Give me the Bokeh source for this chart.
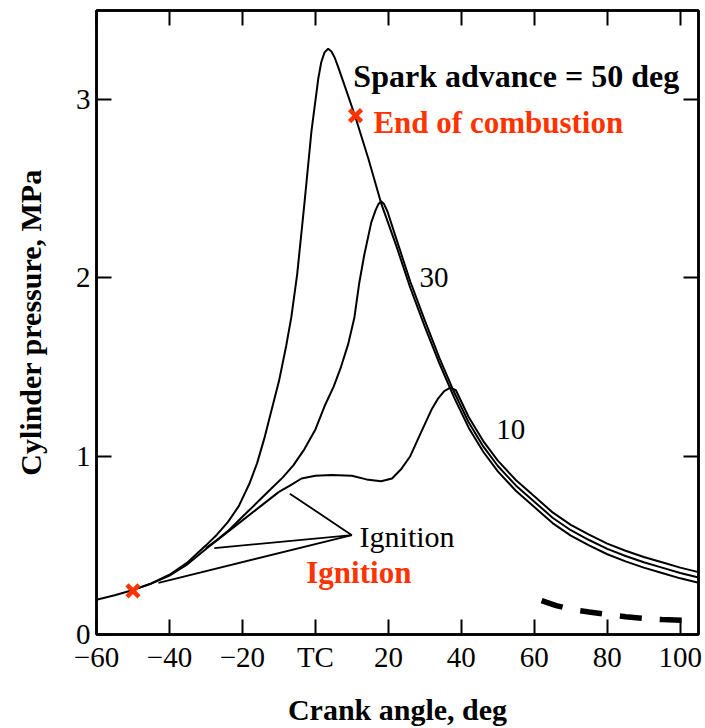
from bokeh.plotting import figure
from bokeh.models import Range1d, FixedTicker, LinearAxis, Label
from bokeh.embed import file_html
from bokeh.resources import INLINE

# ---------------- data ----------------
# motoring / compression curve up to the 10-deg ignition point
motor_crank = [-60, -55, -50, -45, -40, -35, -30, -25, -20, -15, -10]
motor_p = [0.195, 0.22, 0.25, 0.285, 0.33, 0.395, 0.48, 0.56, 0.64, 0.72, 0.80]

# spark advance = 50 deg
sa50_crank = [-50, -45, -40, -35, -30, -27, -24, -21, -18, -16, -14, -12, -10, -8, -6.6, -5,
              -3, -1.1, 0.8, 1.6, 2.5, 3.5, 4.4, 5.3, 6.3, 9, 11, 14.5, 18, 22, 26, 30, 34, 38,
              42, 46, 50, 55, 60, 65, 70, 75, 80, 85, 90, 95, 100, 105]
sa50_p = [0.25, 0.287, 0.335, 0.405, 0.50, 0.56, 0.63, 0.72, 0.85, 0.96, 1.10, 1.26, 1.42, 1.62,
          1.78, 2.02, 2.42, 2.82, 3.12, 3.21, 3.265, 3.285, 3.27, 3.235, 3.18, 3.02, 2.90, 2.67,
          2.42, 2.19, 1.945, 1.725, 1.52, 1.33, 1.16, 1.025, 0.915, 0.805, 0.715, 0.625, 0.555,
          0.50, 0.45, 0.41, 0.375, 0.345, 0.315, 0.29]

# spark advance = 30 deg
sa30_crank = [-30, -27, -24, -20, -16, -12, -9, -6, -3, 0, 2.5, 5, 7, 9, 10.7, 12, 13.4, 15.3,
              16.5, 17.3, 18, 18.8, 19.8, 22, 26, 30, 34, 38, 42, 46, 50, 55, 60, 65, 70, 75,
              80, 85, 90, 95, 100, 105]
sa30_p = [0.485, 0.53, 0.58, 0.66, 0.74, 0.82, 0.88, 0.95, 1.04, 1.15, 1.28, 1.39, 1.50, 1.63,
          1.78, 1.97, 2.13, 2.31, 2.38, 2.415, 2.43, 2.415, 2.37, 2.23, 1.98, 1.76, 1.55, 1.36,
          1.19, 1.055, 0.945, 0.835, 0.745, 0.655, 0.585, 0.53, 0.48, 0.44, 0.405, 0.375,
          0.345, 0.32]

# spark advance = 10 deg
sa10_crank = [-10, -7, -3.8, 0, 4.4, 10, 14, 18, 21, 23.6, 26, 28.2, 30, 31.8, 33.5, 35.3, 37,
              38.5, 42, 46, 50, 55, 60, 65, 70, 75, 80, 85, 90, 95, 100, 105]
sa10_p = [0.80, 0.835, 0.875, 0.89, 0.895, 0.89, 0.87, 0.86, 0.875, 0.93, 1.00, 1.10, 1.18,
          1.26, 1.32, 1.365, 1.385, 1.37, 1.22, 1.085, 0.975, 0.865, 0.775, 0.685, 0.615,
          0.56, 0.51, 0.47, 0.435, 0.405, 0.375, 0.35]

# dashed curve at bottom right
dash_crank = [62, 66, 70, 75, 80, 85, 90, 95, 102]
dash_p = [0.19, 0.162, 0.142, 0.126, 0.112, 0.10, 0.09, 0.084, 0.078]

# ignition leader lines (start on each curve, end at the "Ignition" label)
ign_start_crank = [-43, -27.7, -7]
ign_start_p = [0.29, 0.485, 0.79]
ign_end_crank = 10
ign_end_p = 0.557

# red markers: ignition (50 deg) and end of combustion
mark_crank = [-50, 11]
mark_p = [0.245, 2.91]

x_ticks = [-60, -40, -20, 0, 20, 40, 60, 80, 100]
x_tick_labels = ["\u221260", "\u221240", "\u221220", "TC", "20", "40", "60", "80", "100"]
y_ticks = [0, 1, 2, 3]

RED = "#ff3300"
FONT = "Liberation Serif"

# ---------------- figure ----------------
p = figure(width=705, height=728, x_range=Range1d(-60, 105), y_range=Range1d(0, 3.5),
           output_backend="svg", toolbar_location=None,
           min_border_left=96, min_border_right=7, min_border_top=10, min_border_bottom=91)
p.background_fill_color = "white"
p.border_fill_color = "white"
p.outline_line_color = "black"
p.outline_line_width = 2.5
p.xgrid.visible = False
p.ygrid.visible = False

xa = p.xaxis[0]
xa.ticker = FixedTicker(ticks=x_ticks)
xa.major_label_overrides = {t: l for t, l in zip(x_ticks, x_tick_labels)}
ya = p.yaxis[0]
ya.ticker = FixedTicker(ticks=y_ticks)

for ax in (xa, ya):
    ax.axis_line_width = 2.5
    ax.major_tick_in = 15
    ax.major_tick_out = 0
    ax.major_tick_line_width = 2
    ax.minor_tick_line_color = None
    ax.major_label_text_font = FONT
    ax.major_label_text_font_size = "29px"
    ax.major_label_text_color = "black"
    ax.major_label_standoff = 6
    ax.axis_label_text_font = FONT
    ax.axis_label_text_font_size = "30px"
    ax.axis_label_text_font_style = "bold"
    ax.axis_label_text_color = "black"

xa.axis_label = "Crank angle, deg"
xa.axis_label_standoff = 17
ya.axis_label = "Cylinder pressure, MPa"
ya.axis_label_standoff = 26

# tick marks on top and right frame edges
top = LinearAxis(ticker=FixedTicker(ticks=x_ticks))
right = LinearAxis(ticker=FixedTicker(ticks=y_ticks))
for ax, tks in ((top, x_ticks), (right, y_ticks)):
    ax.axis_line_width = 2.5
    ax.major_tick_in = 15
    ax.major_tick_out = 0
    ax.major_tick_line_width = 2
    ax.minor_tick_line_color = None
    ax.major_label_overrides = {t: "" for t in tks}
    ax.major_label_text_font_size = "0px"
    ax.major_label_standoff = 0
p.add_layout(top, "above")
p.add_layout(right, "right")

# ---------------- curves ----------------
lw = 2
p.line(motor_crank, motor_p, line_color="black", line_width=lw)
p.line(sa50_crank, sa50_p, line_color="black", line_width=lw)
p.line(sa30_crank, sa30_p, line_color="black", line_width=lw)
p.line(sa10_crank, sa10_p, line_color="black", line_width=lw)
p.line(dash_crank, dash_p, line_color="black", line_width=5.5, line_dash="22 18")

for sx, sy in zip(ign_start_crank, ign_start_p):
    p.line([sx, ign_end_crank], [sy, ign_end_p], line_color="black", line_width=1.8)

p.scatter(mark_crank, mark_p, marker="x", size=17, line_width=4.5, line_color=RED)

# ---------------- annotations ----------------
def lab(x, y, text, size, color="black", style="normal"):
    p.add_layout(Label(x=x, y=y, text=text, text_font=FONT, text_font_size=size,
                       text_color=color, text_font_style=style, text_baseline="middle",
                       text_align="left"))

lab(10.4, 3.13, "Spark advance = 50 deg", "32px", style="bold")
lab(15.9, 2.87, "End of combustion", "31px", color=RED, style="bold")
lab(28.5, 2.0, "30", "29px")
lab(49.6, 1.15, "10", "29px")
lab(12.1, 0.55, "Ignition", "30px")
lab(-2.5, 0.345, "Ignition", "31px", color=RED, style="bold")

open("out.html", "w").write(file_html(p, INLINE))
